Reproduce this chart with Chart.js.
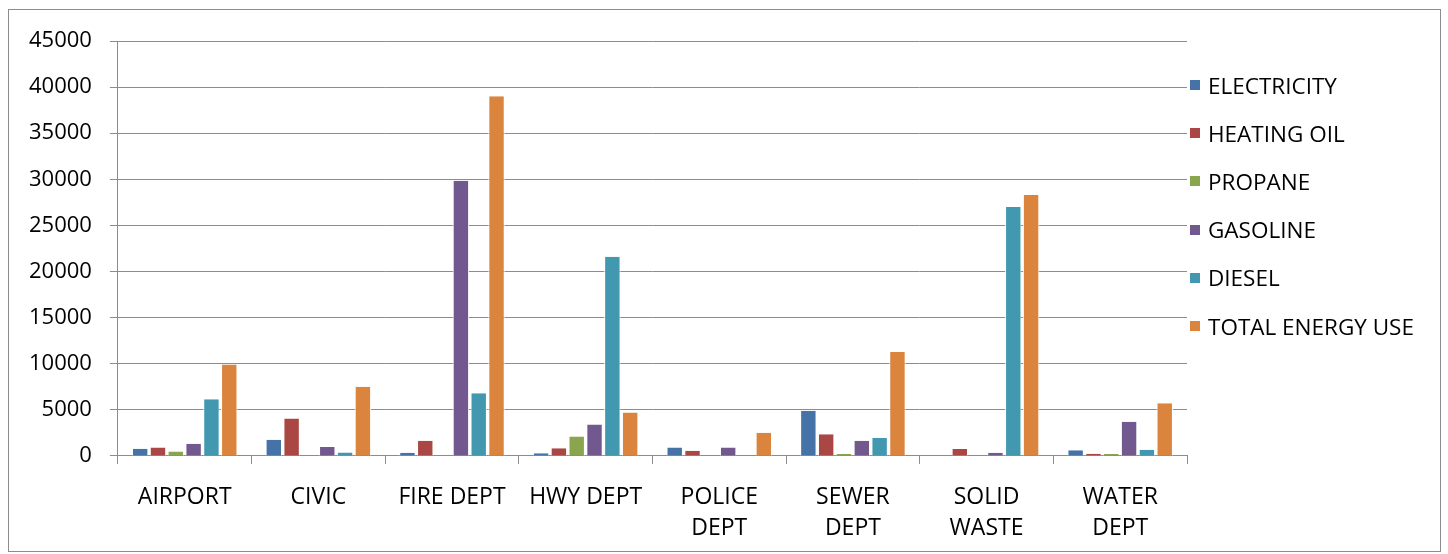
<!DOCTYPE html>
<html>
<head>
<meta charset="utf-8">
<script src="https://cdn.jsdelivr.net/npm/chart.js@4"></script>
<style>
  html, body { margin: 0; padding: 0; background: #fff; overflow: hidden; width: 1448px; height: 554px; }
  #wrap { position: absolute; left: 8px; top: 9px; width: 1433px; height: 543px; border: 1px solid #8c8c8c; box-sizing: border-box; z-index: 2; pointer-events: none; }
  #box { position: absolute; left: 0; top: 0; width: 1448px; height: 573px; }
  #legend { position: absolute; left: 1190px; top: 61px; font-family: 'Open Sans', sans-serif; font-size: 22.5px; color: #000; }
  #legend .item { height: 48.2px; display: flex; align-items: center; white-space: nowrap; }
  #legend .sw { width: 10px; height: 10px; margin-right: 8px; flex: none; }
</style>
</head>
<body>
<div id="wrap"></div>
<div id="box"><canvas id="chart"></canvas></div>
<div id="legend"></div>
<script>
// Categories (multi-line labels as arrays)
const departments = ['AIRPORT', 'CIVIC', 'FIRE DEPT', 'HWY DEPT', ['POLICE', 'DEPT'], ['SEWER', 'DEPT'], ['SOLID', 'WASTE'], ['WATER', 'DEPT']];

// Series values
const electricity = [780, 1760, 350, 300, 900, 4900, 0, 600];
const heatingOil  = [920, 4050, 1650, 820, 560, 2350, 750, 240];
const propane     = [480, 0, 0, 2100, 0, 200, 0, 200];
const gasoline    = [1320, 960, 29850, 3400, 900, 1650, 350, 3700];
const diesel      = [6150, 380, 6800, 21600, 0, 1950, 27000, 680];
const totalEnergy = [9900, 7500, 39000, 4700, 2520, 11280, 28300, 5700];

const yTicks = [0, 5000, 10000, 15000, 20000, 25000, 30000, 35000, 40000, 45000];

const seriesNames = ['ELECTRICITY', 'HEATING OIL', 'PROPANE', 'GASOLINE', 'DIESEL', 'TOTAL ENERGY USE'];
const seriesColors = ['#4572A7', '#AA4643', '#89A54E', '#71588F', '#4198AF', '#DB843D'];
const seriesData = [electricity, heatingOil, propane, gasoline, diesel, totalEnergy];

const font = "'Open Sans', 'Liberation Sans', sans-serif";
const gridGray = '#8c8c8c';

const ctx = document.getElementById('chart').getContext('2d');
const chart = new Chart(ctx, {
    type: 'bar',
    data: {
        labels: departments,
        datasets: seriesNames.map((name, i) => ({
            label: name,
            data: seriesData[i],
            backgroundColor: seriesColors[i],
            borderColor: '#ffffff',
            borderWidth: { top: 0, left: 1, right: 1, bottom: 0 },
            categoryPercentage: 0.8,
            barPercentage: 0.92
        }))
    },
    options: {
        responsive: true,
        maintainAspectRatio: false,
        animation: false,
        layout: { padding: { left: 11, right: 261, top: 41, bottom: 11 } },
        plugins: {
            legend: { display: false },
            tooltip: { enabled: false }
        },
        scales: {
            x: {
                grid: { display: true, offset: true, drawOnChartArea: false, color: gridGray, tickLength: 8 },
                border: { color: gridGray, width: 1 },
                ticks: { color: '#000', font: { family: font, size: 23, lineHeight: 1.35 }, padding: 18, maxRotation: 0, autoSkip: false }
            },
            y: {
                min: 0,
                max: 45000,
                afterBuildTicks: axis => { axis.ticks = yTicks.map(v => ({ value: v })); },
                grid: { color: gridGray, lineWidth: 1, tickLength: 8 },
                border: { color: gridGray, width: 1 },
                ticks: { color: '#000', font: { family: font, size: 22 }, padding: 18, callback: v => String(v) }
            }
        }
    }
});

// Legend built from the chart's datasets
const legendEl = document.getElementById('legend');
chart.data.datasets.forEach(ds => {
    const item = document.createElement('div');
    item.className = 'item';
    const sw = document.createElement('span');
    sw.className = 'sw';
    sw.style.background = ds.backgroundColor;
    item.appendChild(sw);
    item.appendChild(document.createTextNode(ds.label));
    legendEl.appendChild(item);
});
</script>
</body>
</html>
